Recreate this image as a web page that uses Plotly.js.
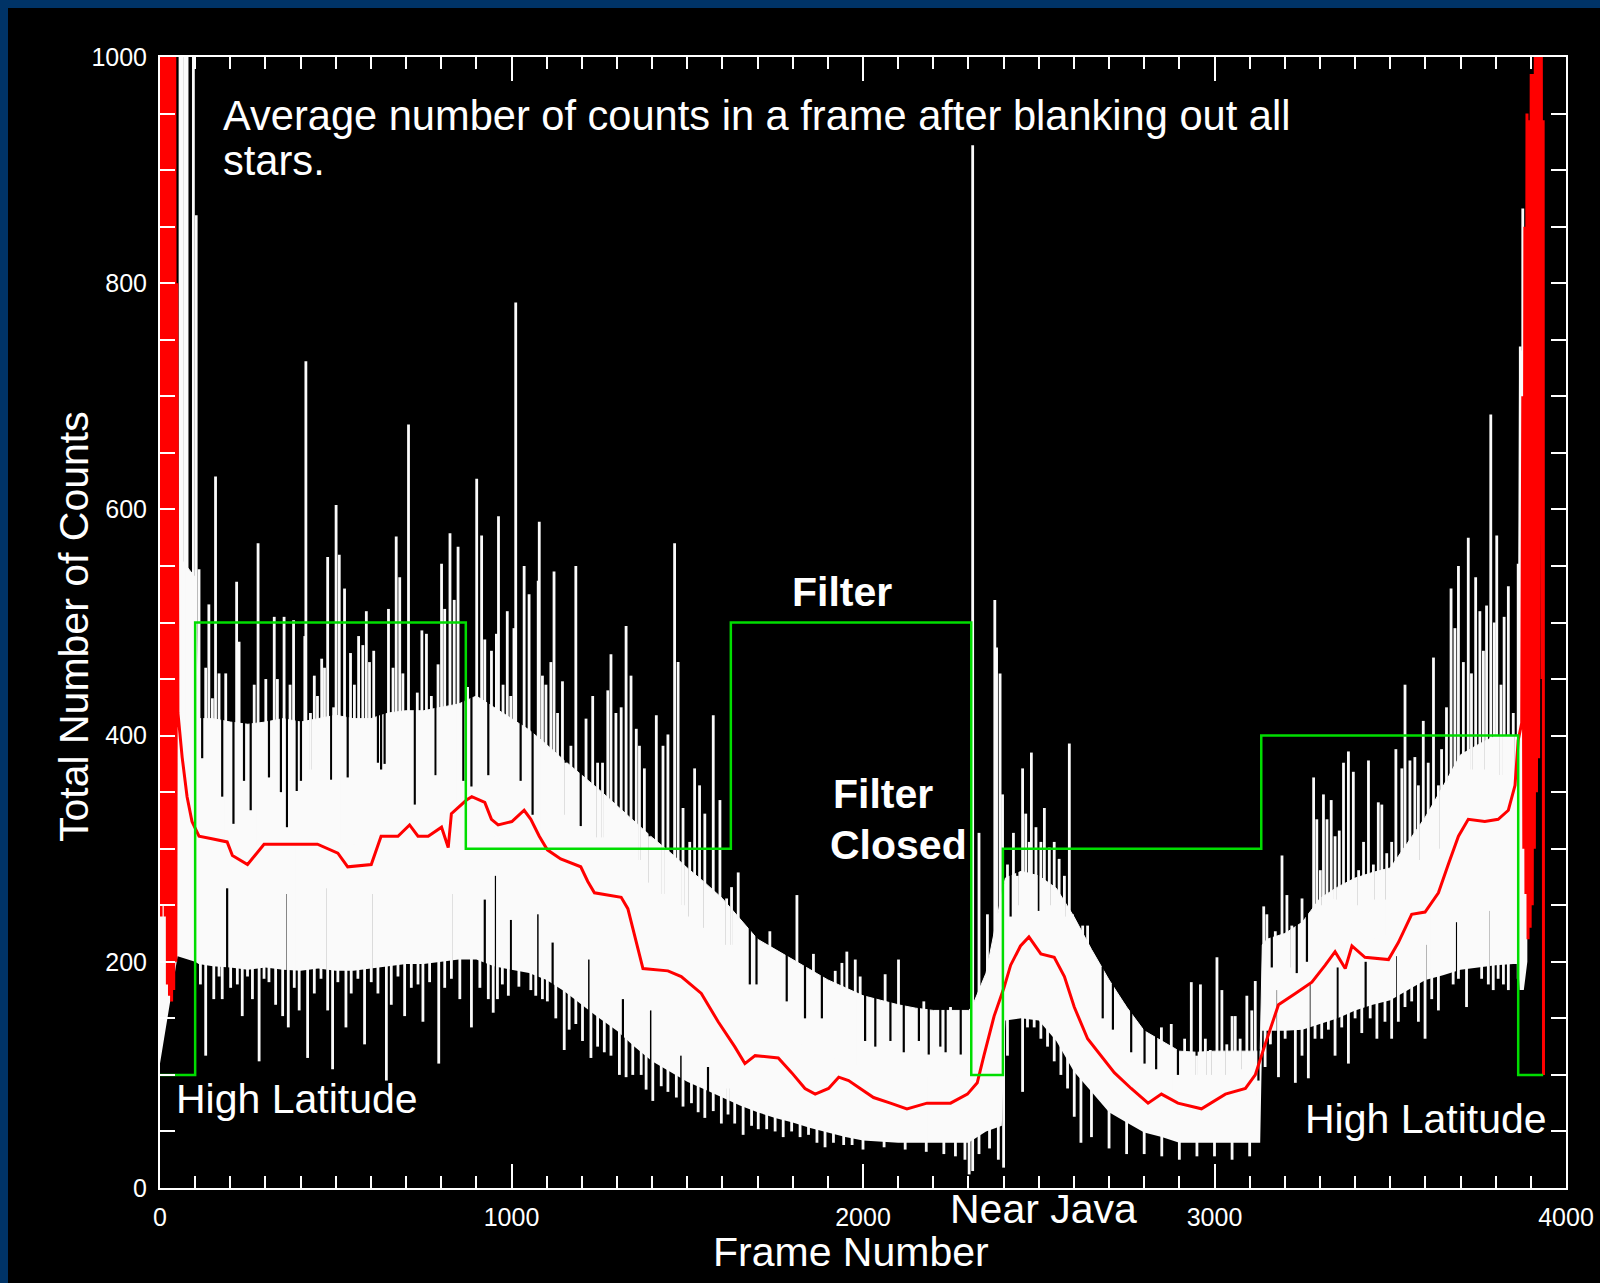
<!DOCTYPE html>
<html>
<head>
<meta charset="utf-8">
<script src="https://cdn.plot.ly/plotly-3.0.1.min.js"></script>
<style>
  html, body { margin: 0; padding: 0; background: #003366; width: 1600px; height: 1283px; overflow: hidden; }
  #chart { position: absolute; left: 8px; top: 8px; width: 1592px; height: 1275px; background: #000; }
</style>
</head>
<body>
<div id="chart"></div>
<script>
// ---- Data ----
// Mostly-white part of the band of per-frame counts
const coreFrames = [0,50,100,110,150,200,250,300,350,400,450,500,550,600,650,700,750,800,850,900,950,1000,1050,1100,1150,1200,1250,1300,1350,1400,1450,1500,1550,1600,1650,1700,1750,1800,1850,1900,1950,2000,2050,2100,2150,2200,2250,2300,
  2310,2350,2395,2405,2450,2500,2550,2600,2650,2700,2750,2800,2850,2900,2950,3000,3050,3100,3130,3136,3150,
  3200,3250,3300,3350,3400,3450,3500,3550,3600,3650,3700,3750,3800,3850,3864,3868,3880,3890];
const coreLow = [110,205,200,198,196,195,193,195,193,192,194,192,192,194,196,198,198,200,202,202,196,193,190,184,174,162,150,139,125,112,103,94,87,80,73,67,62,58,53,49,45,42,41,40,40,40,40,40,
  42,50,55,148,150,148,130,103,85,67,58,49,45,40,40,40,40,40,40,139,139,
  139,140,145,150,157,162,166,175,184,188,193,195,197,198,198,175,175,200];
const coreHigh = [560,560,540,415,415,412,410,412,415,412,415,418,415,415,420,422,422,425,428,435,425,415,405,392,378,365,352,338,324,310,297,283,270,256,238,220,211,202,193,184,177,170,166,162,159,157,157,157,
  160,190,260,274,280,276,265,240,211,184,160,139,130,121,120,121,121,121,121,215,220,
  225,235,256,266,274,279,283,305,328,355,383,392,400,400,400,740,740,500];

// Dips into the top of the band (frame, lowest value of the dark gap)
const topDipFrames = [120,177,209,239,258,310,344,361,389,401,428,487,534,620,629,639,725,784,863,886,934,
  1026,1060,1154,1197,1245,1259,1364,1393,1431,1488,1507,1550,1612,1626,1678,1697,1783,1835,1883,
  2006,2035,2078,2116,2159,2187,2220,2235,2278,
  2420,2439,2500,2530,2573,2682,2711,2763,2801,2834,2896,2949,2974,2988,3035,3073,3125,
  3163,3220,3234,3263,3301,3343,3410,3452,3490,3580,3637,3660,3731,3765,3815,3850];
const topDipValues = [380,346,322,360,334,363,350,319,351,360,370,361,363,376,370,375,339,365,360,355,365,
  360,330,330,320,310,310,290,270,260,250,240,230,215,215,180,180,165,150,150,
  130,125,130,120,130,118,125,120,118,
  240,250,245,250,240,150,140,120,110,105,100,100,100,100,100,105,95,
  195,195,190,200,250,255,250,255,255,290,300,360,370,370,365,360];

// Dark gaps rising into the bottom of the band (frame, highest value of the gap)
const bottomGapFrames = [191,363,477,601,829,924,955,998,1074,1117,1221,1317,1397,1483,1559,1616,
  3180,3270,3350,3430,3520,3600,3690,3780];
const bottomGapValues = [265,260,265,260,260,255,276,237,242,217,202,167,157,117,107,88,
  175,180,195,200,205,215,235,245];

// Single-frame excursions above the band (tops)
const upFrames = [57,63,70,77,95,103,
  111,120,130,139,149,158,168,187,201,218,225,239,250,268,279,287,301,325,334,344,353,370,380,401,412,415,428,439,448,460,468,477,494,501,510,525,542,553,565,577,587,596,608,629,639,650,663,672,682,691,707,732,745,758,772,784,791,801,810,825,837,848,863,875,886,901,915,924,934,943,
  957,963,976,988,998,1007,1012,1026,1036,1050,1060,1076,1079,1088,1098,1112,1121,1131,1145,1154,1169,1183,1197,1212,1231,1245,1259,1274,1283,1297,1312,1326,1340,1355,1364,1378,1393,1412,1431,1445,1464,1474,1488,1507,1521,1535,1550,1574,1593,1612,1626,1645,1659,1678,1697,1716,1735,1759,1783,1812,1835,1859,1883,1907,1921,1940,
  1954,1968,1978,1992,2006,2020,2035,2049,2063,2078,2087,2101,2116,2130,2144,2159,2173,2187,2201,2220,2235,2249,2263,2278,
  2312,2330,2354,2375,2380,2390,2397,
  2411,2420,2428,2439,2454,2463,2473,2479,2492,2506,2516,2530,2544,2558,2573,2587,2596,
  2611,2625,2639,2654,2668,2682,2696,2711,2725,2744,2763,2782,2801,2820,2834,2849,2863,2877,2896,2915,2934,2949,
  2960,2974,2988,3007,3021,3035,3050,3059,3073,3092,3106,3116,3125,
  3140,3149,3163,3173,3192,3206,3220,3234,3249,3263,3282,3291,
  3301,3310,3320,3332,3343,3355,3367,3381,3395,3410,3424,3438,3452,3466,3476,3490,3504,3516,
  3533,3542,3556,3570,3580,3594,3608,3623,3637,3646,
  3660,3673,3684,3694,3708,3722,3731,3743,3755,3765,3774,3786,3796,3803,3815,3824,3836,3850,3864,3870,3877];
const upTops = [1100,1100,1100,1050,1000,860,
  547,396,460,516,433,629,455,455,386,536,483,376,373,445,570,410,450,505,450,376,505,445,502,391,488,731,420,453,435,468,460,558,425,604,560,530,473,445,488,480,510,465,475,410,408,512,460,576,540,455,675,438,493,490,435,400,463,552,512,579,520,567,388,443,378,627,577,485,391,475,
  490,594,445,510,435,495,783,405,550,525,366,537,589,453,445,465,545,420,448,376,391,550,348,415,435,376,376,440,472,420,425,497,453,406,391,371,311,418,391,401,570,465,336,306,371,356,331,418,343,256,266,279,227,194,191,214,227,199,172,259,157,207,157,172,192,199,
  209,157,202,187,137,142,127,157,189,132,142,202,122,130,147,137,165,117,137,127,122,160,137,117,
  922,314,242,520,478,455,348,
  286,261,314,276,371,331,306,385,319,306,336,301,306,291,276,393,242,
  207,232,232,192,167,152,177,142,157,162,132,142,117,132,122,142,127,145,117,132,182,117,
  180,132,122,204,175,127,152,152,132,170,157,183,107,
  249,242,217,227,294,259,232,207,256,217,363,326,
  281,348,326,343,311,316,376,386,368,281,306,378,286,341,339,296,306,388,
  371,445,378,381,356,413,376,469,356,388,
  425,530,495,550,465,575,455,540,510,475,515,684,500,577,445,505,532,420,552,744,866];

// Single-frame excursions below the band (bottoms)
const downFrames = [115,130,153,168,177,201,220,234,249,263,282,296,310,329,349,365,382,396,420,439,458,477,491,506,529,544,563,582,601,620,644,658,677,696,715,734,748,767,793,810,829,853,886,910,934,948,
  960,974,991,1021,1055,1069,1088,1102,1126,1150,1164,1183,1202,1226,1245,1264,1283,1307,1326,1345,1369,1383,1402,1426,1445,1469,1488,1512,1531,1550,1574,1597,1616,1635,1659,1683,1702,1726,1750,1773,1797,1821,1845,1869,1892,1916,1945,1969,
  2000,2060,2120,2180,2230,2263,2290,2302,2312,2330,2360,2385,2400,
  2411,2454,2468,2487,2506,2525,2544,2563,2582,2601,2620,2650,2700,2750,2800,2850,2900,2950,3000,3050,3100,
  3144,3159,3182,3201,3230,3249,3267,3286,3305,3324,3343,3362,3381,3400,3419,3443,3462,3485,3504,3523,3542,3561,3580,3599,3618,3637,
  3679,3694,3717,3760,3779,3793,3807,3822,3836,3864];
const downBottoms = [180,117,167,187,167,177,180,152,187,167,112,185,182,162,152,142,177,157,115,172,185,157,105,182,142,172,185,127,182,172,95,162,187,152,177,180,147,182,110,177,185,167,142,177,167,155,
  167,180,170,178,175,170,167,165,150,122,140,145,130,115,125,120,117,100,98,100,100,87,77,90,85,80,72,75,67,62,68,57,65,57,47,55,52,52,50,45,50,45,47,40,36,40,38,38,
  34,36,34,32,30,28,25,12,15,30,35,25,18,
  117,85,142,142,132,125,112,100,88,63,40,45,35,30,30,28,25,28,28,25,28,
  107,127,98,132,93,117,97,132,132,140,117,142,110,150,137,150,132,147,132,147,160,165,147,132,167,157,
  180,185,160,185,180,175,185,180,175,185];

// Running median (red)
const medianFrames = [0,3,6,9,12,15,18,21,24,27,30,33,36,39,42,45,48,51,
  63,77,91,111,144,191,206,249,296,353,448,506,534,601,629,677,710,734,763,801,820,829,872,887,924,943,962,1001,
  1036,1055,1079,1102,1140,1197,1217,1236,1312,1331,1359,1374,1445,1483,1540,1588,1635,1664,1693,1759,1797,1835,1864,1902,1931,1959,
  1992,2030,2078,2125,2182,2249,2297,2325,2344,2373,2401,2420,2448,2472,2506,2544,2573,2601,2639,2677,2715,2763,2811,2849,2896,2963,
  3031,3088,3116,3144,3182,3230,3277,3315,3343,3372,3391,3428,3495,3523,3561,3599,3637,3665,3694,3722,3769,3807,3836,3855,3864,3874,
  3877,3880,3883,3886,3889,3892,3895,3898,3901,3904,3907,3910,3913,3916,3919,3922,3925,3929,3932,3935,3936];
const medianCounts = [1200,240,1200,250,1200,240,1200,180,1150,170,1100,165,1050,175,1000,200,800,420,
  381,346,324,311,309,306,294,286,304,304,304,296,284,286,311,311,321,311,311,319,301,331,343,346,341,326,321,324,
  334,326,311,299,291,284,271,261,257,247,212,194,192,187,172,147,125,110,117,115,102,88,83,88,98,95,
  88,80,75,70,75,75,83,93,117,152,177,197,214,222,207,204,187,160,132,117,102,88,75,83,75,70,
  83,88,100,127,162,172,182,197,209,194,214,204,202,217,242,244,261,286,311,326,324,326,334,356,396,411,
  700,300,850,260,950,220,944,230,985,250,985,300,1100,350,1100,380,1050,1200,450,944,100];

// Filter / region status (green step)
const filterFrames = [0,100,870,1624,2308,2398,3133,3864,3935];
const filterLevels = [100,500,300,500,100,300,400,100,100];

// ---- Build drawing segments from the values above ----
function interp(xs, ys, x) {
  if (x <= xs[0]) return ys[0];
  for (let i = 1; i < xs.length; i++) {
    if (x <= xs[i]) {
      const t = (x - xs[i-1]) / (xs[i] - xs[i-1]);
      return ys[i-1] + t * (ys[i] - ys[i-1]);
    }
  }
  return ys[ys.length - 1];
}
const hiAt = f => interp(coreFrames, coreHigh, f);
const loAt = f => interp(coreFrames, coreLow, f);
const mid = f => (hiAt(f) + loAt(f)) / 2;

const upX = [], upY = [];
upFrames.forEach((f, i) => { if (upTops[i] > hiAt(f) - 4) { upX.push(f, f, null); upY.push(mid(f), upTops[i], null); } });
const dnX = [], dnY = [];
downFrames.forEach((f, i) => { if (downBottoms[i] < loAt(f) + 4) { dnX.push(f, f, null); dnY.push(mid(f), downBottoms[i], null); } });
const gapX = [], gapY = [];
topDipFrames.forEach((f, i) => { gapX.push(f, f, null); gapY.push(hiAt(f) + 2, topDipValues[i], null); });
bottomGapFrames.forEach((f, i) => { gapX.push(f, f, null); gapY.push(loAt(f) - 2, bottomGapValues[i], null); });

const WHITE = '#fafafa';
const traces = [
  {x: coreFrames, y: coreLow, mode: 'lines', line: {width: 0, color: WHITE}, hoverinfo: 'skip', showlegend: false},
  {x: coreFrames, y: coreHigh, mode: 'lines', fill: 'tonexty', fillcolor: WHITE, line: {width: 1, color: WHITE}, hoverinfo: 'skip', showlegend: false},
  {x: gapX, y: gapY, mode: 'lines', line: {width: 2.2, color: '#000000'}, connectgaps: false, showlegend: false},
  {x: upX, y: upY, mode: 'lines', line: {width: 2.8, color: WHITE}, connectgaps: false, showlegend: false},
  {x: dnX, y: dnY, mode: 'lines', line: {width: 2.8, color: WHITE}, connectgaps: false, showlegend: false},
  {x: medianFrames, y: medianCounts, mode: 'lines', line: {width: 3, color: '#ff0000'}, showlegend: false},
  {x: filterFrames, y: filterLevels, mode: 'lines', line: {width: 2.5, color: '#00dd00', shape: 'hv'}, showlegend: false}
];

// Plot-area pixel helpers (for text placement)
const L = 160, R = 1566, T = 57, B = 1188;
const px = x => (x - L) / (R - L);
const py = y => (B - y) / (B - T);
const FAM = 'Liberation Sans, Arial, sans-serif';
const txtFont = {family: FAM, size: 41, color: '#ffffff'};
const titleFont = {family: FAM, size: 41.6, color: '#ffffff'};
const boldFont = {family: FAM, size: 41, color: '#ffffff', weight: 'bold'};

const ann = (text, x, y, xanchor, font, extra) => Object.assign({
  text: text, xref: 'paper', yref: 'paper', x: px(x), y: py(y),
  xanchor: xanchor, yanchor: 'middle', showarrow: false, font: font, borderpad: 0
}, extra || {});

const layout = {
  width: 1592, height: 1275,
  margin: {l: 152, r: 34, t: 49, b: 95},
  paper_bgcolor: '#000000', plot_bgcolor: '#000000',
  showlegend: false,
  xaxis: {
    range: [0, 4000], autorange: false, dtick: 1000, tick0: 0,
    ticks: 'inside', ticklen: 24, tickwidth: 2, tickcolor: '#ffffff',
    minor: {dtick: 100, ticks: 'inside', ticklen: 12, tickwidth: 2, tickcolor: '#ffffff'},
    showline: true, linecolor: '#ffffff', linewidth: 2, mirror: 'ticks',
    showgrid: false, zeroline: false,
    tickfont: {family: FAM, size: 25, color: '#ffffff'},
    ticklabelstandoff: 6
  },
  yaxis: {
    range: [0, 1000], autorange: false, dtick: 200, tick0: 0,
    ticks: 'inside', ticklen: 15, tickwidth: 2, tickcolor: '#ffffff',
    minor: {dtick: 50, ticks: 'inside', ticklen: 15, tickwidth: 2, tickcolor: '#ffffff'},
    showline: true, linecolor: '#ffffff', linewidth: 2, mirror: 'ticks',
    showgrid: false, zeroline: false,
    tickfont: {family: FAM, size: 25, color: '#ffffff'},
    ticklabelstandoff: 6
  },
  annotations: [
    ann('Average number of counts in a frame after blanking out all', 222, 115, 'left', titleFont),
    ann('stars.', 222, 160, 'left', titleFont),
    ann('Filter', 842, 592, 'center', boldFont),
    ann('Filter', 832, 794, 'left', boldFont),
    ann('Closed', 829, 845, 'left', boldFont),
    ann('High Latitude', 175, 1099, 'left', txtFont),
    ann('High Latitude', 1304, 1119, 'left', txtFont),
    ann('Near Java', 949, 1209, 'left', txtFont),
    ann('Frame Number', 851, 1252, 'center', txtFont),
    ann('Total Number of Counts', 74, 627, 'center', txtFont, {textangle: -90})
  ]
};

Plotly.newPlot('chart', traces, layout, {staticPlot: true, displayModeBar: false});
</script>
</body>
</html>
